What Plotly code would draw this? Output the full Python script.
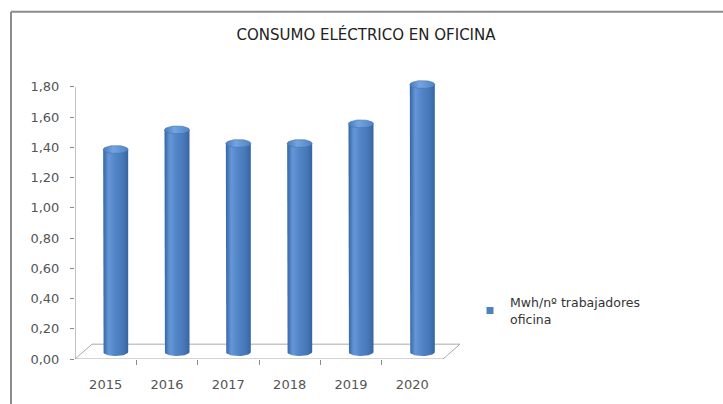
import numpy as np
import plotly.graph_objects as go

# Office electricity consumption per worker (MWh per office worker)
years = ["2015", "2016", "2017", "2018", "2019", "2020"]
consumo = [1.34, 1.47, 1.38, 1.38, 1.51, 1.77]
serie = "Mwh/nº trabajadores<br>oficina"
y_ticks = [0.0, 0.2, 0.4, 0.6, 0.8, 1.0, 1.2, 1.4, 1.6, 1.8]

# Canvas geometry (pixels)
W, H = 723, 404
PL, PR, PT, PB = 75, 470, 80, 362          # plot area edges
cat_px = (443 - 75) / 6                    # width of one category on the floor front edge
unit_px = (362 - 87) / 1.8                 # pixels per unit on the value axis

x_lo = -0.5
x_hi = x_lo + (PR - PL) / cat_px
y_hi = (PB - PT) / unit_px

# 3D look: bars stand half-way back on the floor
dx_bar = 10 / cat_px
dy_bar = 7 / unit_px
dx_back = 17 / cat_px
dy_back = 15 / unit_px
half_w = 12.5 / cat_px
ell_b = 4 / unit_px

fig = go.Figure()

# floor of the 3D plot
fx = [x_lo, x_lo + 6, x_lo + 6 + dx_back, x_lo + dx_back, x_lo]
fy = [0, 0, dy_back, dy_back, 0]
fig.add_trace(go.Scatter(x=fx, y=fy, mode="lines", line=dict(color="#a9a9a9", width=1),
                         hoverinfo="skip", showlegend=False))

body_scale = [[0, "#3464a2"], [0.22, "#6597d8"], [0.45, "#5487c8"], [0.8, "#4676b6"], [1, "#3564a1"]]
cap_scale = [[0, "#4a7cbc"], [0.4, "#74a4e0"], [1, "#5183c3"]]

t_front = np.linspace(np.pi, 2 * np.pi, 25)
t_full = np.linspace(0, 2 * np.pi, 49)

for i, v in enumerate(consumo):
    cx = i + dx_bar
    base = dy_bar
    top = v + dy_bar
    xl, xr = cx - half_w, cx + half_w
    bx = np.concatenate([[xl, xl], cx + half_w * np.cos(t_front), [xr, xr]])
    by = np.concatenate([[top, base], base + ell_b * np.sin(t_front), [base, top]])
    fig.add_trace(go.Scatter(
        x=bx, y=by, mode="lines", fill="toself", line=dict(width=0),
        fillgradient=dict(type="horizontal", colorscale=body_scale),
        hoverinfo="text", text=f"{years[i]}: {v:.2f}".replace(".", ","),
        showlegend=False))
    fig.add_trace(go.Scatter(
        x=cx + half_w * np.cos(t_full), y=top + ell_b * np.sin(t_full),
        mode="lines", fill="toself", line=dict(width=0.6, color="#4272b0"),
        fillgradient=dict(type="horizontal", colorscale=cap_scale),
        hoverinfo="skip", showlegend=False))

# legend entry for the series
fig.add_trace(go.Scatter(x=[None], y=[None], mode="markers", name=serie,
                         marker=dict(symbol="square", size=7, color="#4f81bd")))

# value axis line
fig.add_shape(type="line", xref="x", yref="y", x0=x_lo, x1=x_lo, y0=0, y1=1.8,
              line=dict(color="#8a8a8a", width=1))


def px_x(p):
    return (p - PL) / (PR - PL)


def px_y(p):
    return (PB - p) / (PB - PT)


# outer chart frame (top and left edges are visible)
fig.add_shape(type="line", xref="paper", yref="paper",
              x0=px_x(11), x1=px_x(900), y0=px_y(11), y1=px_y(11),
              line=dict(color="#8c8c8c", width=2), layer="below")
fig.add_shape(type="line", xref="paper", yref="paper",
              x0=px_x(11), x1=px_x(11), y0=px_y(11), y1=px_y(600),
              line=dict(color="#8c8c8c", width=2), layer="below")

font_name = "DejaVu Sans"
fig.update_layout(
    width=W, height=H,
    margin=dict(l=PL, r=W - PR, t=PT, b=H - PB, pad=0),
    paper_bgcolor="white", plot_bgcolor="white",
    separators=",.",
    font=dict(family=font_name, size=12, color="#555555"),
    title=dict(text="CONSUMO ELÉCTRICO EN OFICINA", xref="container", yref="container",
               x=366 / W, y=1 - 35 / H, xanchor="center", yanchor="middle",
               font=dict(family=font_name, size=15, color="#222222")),
    xaxis=dict(range=[x_lo, x_hi], showgrid=False, zeroline=False, showline=False,
               tickmode="array", tickvals=list(range(6)), ticktext=years, ticks="",
               ticklabelstandoff=16,
               minor=dict(tickmode="array", tickvals=[k + 0.5 for k in range(5)],
                          ticks="outside", ticklen=5, tickcolor="#8a8a8a"),
               tickfont=dict(size=13, color="#555555"), fixedrange=True),
    yaxis=dict(range=[0, y_hi], showgrid=False, zeroline=False, showline=False,
               tickmode="array", tickvals=y_ticks, tickformat=".2f",
               ticks="outside", ticklen=4, tickcolor="#8a8a8a",
               ticklabelstandoff=8,
               tickfont=dict(size=13, color="#555555"), fixedrange=True),
    legend=dict(x=1.0, xanchor="left", y=px_y(290), yanchor="top",
                font=dict(family=font_name, size=12.5, color="#333333"),
                bgcolor="rgba(0,0,0,0)", itemwidth=30),
    showlegend=True,
)

fig.write_html("out.html")
